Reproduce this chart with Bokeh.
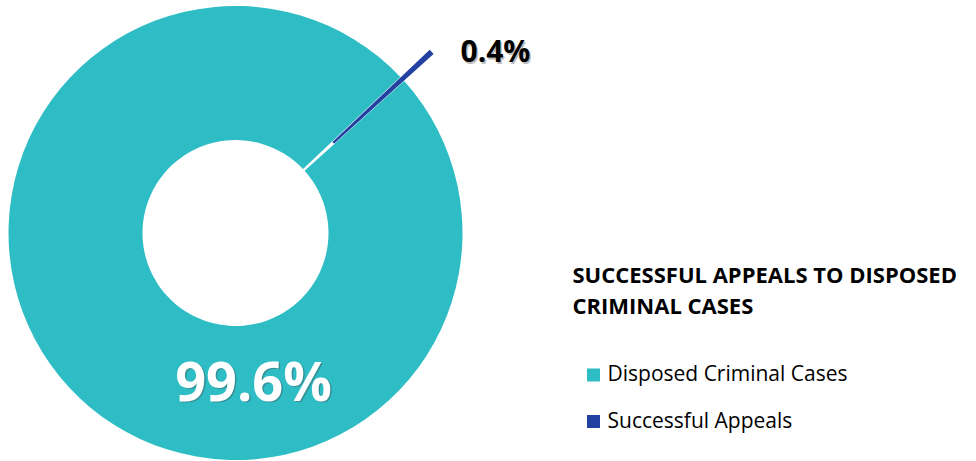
import numpy as np
from bokeh.plotting import figure
from bokeh.models import Range1d, ColumnDataSource
from bokeh.core.properties import value
from bokeh.embed import file_html
from bokeh.resources import INLINE

# ---- data ----
categories = ["Disposed Criminal Cases", "Successful Appeals"]
shares = [99.6, 0.4]
share_labels = ["99.6%", "0.4%"]
title_lines = ["SUCCESSFUL APPEALS TO DISPOSED", "CRIMINAL CASES"]

# ---- style ----
colors = ["#2EBDC5", "#2341A0"]
explode = [0, 40]            # px offset of each slice
first_slice_deg = 48         # clockwise from 12 o'clock
cx, cy = 235, 228.5
r_in, r_out = 93, 227
FONT = "Open Sans"
BL = 0.4                     # baseline correction (em)

W, H = 976, 461
p = figure(width=W, height=H, output_backend="svg", toolbar_location=None,
           x_range=Range1d(0, W), y_range=Range1d(0, H),
           x_axis_type=None, y_axis_type=None, min_border=0)
p.outline_line_color = None
p.grid.visible = False
p.background_fill_color = "white"
p.border_fill_color = "white"

fr = np.array(shares) / np.sum(shares)
a0 = np.pi / 2 - np.radians(first_slice_deg)
cum = np.concatenate([[0], np.cumsum(fr)])
starts = a0 - 2 * np.pi * cum[:-1]   # clockwise
ends = a0 - 2 * np.pi * cum[1:]
mids = (starts + ends) / 2
xs = cx + np.array(explode) * np.cos(mids)
ys = cy + np.array(explode) * np.sin(mids)

src = ColumnDataSource(dict(x=xs, y=ys, s=ends, e=starts, c=colors, name=categories))
p.annular_wedge(x="x", y="y", inner_radius=r_in, outer_radius=r_out,
                start_angle="s", end_angle="e", fill_color="c", line_color=None,
                source=src)

# ---- data labels ----
lab_x = [253, 460]
lab_y = [H - 401, H - 62]
lab_col = ["white", "black"]
lab_align = ["center", "left"]
lab_size = [54, 30]
for i in range(len(share_labels)):
    yb = lab_y[i] + BL * lab_size[i]
    p.text(x=[lab_x[i] + 1.5], y=[yb - 1.5], text=[share_labels[i]],
           text_font=value(FONT), text_font_style="bold", text_font_size=f"{lab_size[i]}px",
           text_color="#404040", text_alpha=0.35, text_align=lab_align[i],
           text_baseline="alphabetic")
    p.text(x=[lab_x[i]], y=[yb], text=[share_labels[i]],
           text_font=value(FONT), text_font_style="bold", text_font_size=f"{lab_size[i]}px",
           text_color=lab_col[i], text_align=lab_align[i], text_baseline="alphabetic")

# ---- title ----
for j, line in enumerate(title_lines):
    p.text(x=[572], y=[H - 282 - 31 * j + BL * 22], text=[line], text_font=value(FONT),
           text_font_style="bold", text_font_size="22px", text_color="black",
           text_baseline="alphabetic")

# ---- legend ----
leg_y = [H - 374.5, H - 421]
p.scatter(x=[593, 593], y=leg_y, marker="square", size=13,
          fill_color=colors, line_color=None)
p.text(x=[607, 607], y=[H - 381 + BL * 21, H - 427.5 + BL * 21], text=categories,
       text_font=value(FONT), text_font_size="21px", text_color="black",
       text_baseline="alphabetic")

open("out.html", "w").write(file_html(p, INLINE))
